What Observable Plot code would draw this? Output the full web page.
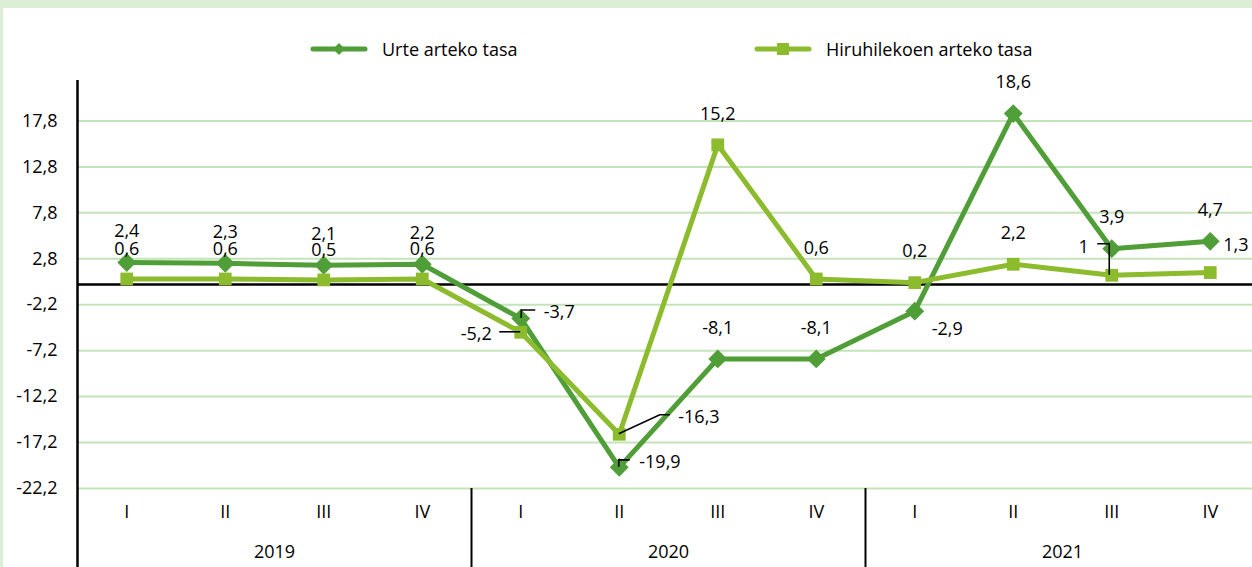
<!DOCTYPE html>
<html>
<head>
<meta charset="utf-8">
<script src="https://cdn.jsdelivr.net/npm/d3@7"></script>
<script src="https://cdn.jsdelivr.net/npm/@observablehq/plot@0.6"></script>
<style>
html, body { margin: 0; padding: 0; background: #fff; }
#wrap { position: relative; width: 1252px; height: 567px; overflow: hidden; font-family: "Open Sans", sans-serif; background: #fff; }
#frameTop { position: absolute; left: 0; top: 0; width: 1252px; height: 8px; background: #dcefd6; z-index: 2; }
#frameLeft { position: absolute; left: 0; top: 0; width: 3px; height: 567px; background: #dcefd6; z-index: 2; }
#chart { position: absolute; left: 0; top: 70px; }
.leg { position: absolute; top: 37px; height: 24px; display: flex; align-items: center; font-size: 18px; color: #000; white-space: nowrap; }
.leg svg { display: block; }
</style>
</head>
<body>
<div id="wrap">
  <div id="frameTop"></div>
  <div id="frameLeft"></div>
  <div id="leg1" class="leg" style="left:310px"></div>
  <div id="leg2" class="leg" style="left:754px"></div>
  <div id="chart"></div>
</div>
<script>
// ---- data ----
const quarters = ["I", "II", "III", "IV"];
const years = ["2019", "2020", "2021"];
const seriesNames = ["Urte arteko tasa", "Hiruhilekoen arteko tasa"];
const urte = [2.4, 2.3, 2.1, 2.2, -3.7, -19.9, -8.1, -8.1, -2.9, 18.6, 3.9, 4.7];
const hiru = [0.6, 0.6, 0.5, 0.6, -5.2, -16.3, 15.2, 0.6, 0.2, 2.2, 1, 1.3];
const yTicks = [-22.2, -17.2, -12.2, -7.2, -2.2, 2.8, 7.8, 12.8, 17.8];

// ---- label placement (style, not data) ----
const urtePlace = ["above","above","above","above","r1","r2","above","above","br","above","above","above"];
const hiruPlace = ["above2","above2","above2","above2","l1","r3","above","above","above","above","l2","r4"];
const placements = {
  above: {dx: 0, dy: -31, anchor: "middle"},
  above2: {dx: 0, dy: -30, anchor: "middle"},
  r1: {dx: 23, dy: -6, anchor: "start"},
  l1: {dx: -29, dy: 2, anchor: "end"},
  r2: {dx: 20, dy: -5, anchor: "start"},
  r3: {dx: 59, dy: -17, anchor: "start"},
  br: {dx: 17, dy: 18, anchor: "start"},
  l2: {dx: -23, dy: -28, anchor: "end"},
  r4: {dx: 13, dy: -27, anchor: "start"}
};
// leader lines: pixel offsets from the data point
const leaders = [
  {s: "urte", i: 4, pts: [[1, 0], [1, -8], [15, -8]]},
  {s: "hiru", i: 4, pts: [[-21, 0], [0, 0]]},
  {s: "urte", i: 5, pts: [[0, 0], [0, -7], [11, -7]]},
  {s: "hiru", i: 5, pts: [[0, 0], [41, -19], [51, -19]]},
  {s: "hiru", i: 10, pts: [[-14, -31], [-2, -31], [-2, 0]]}
];

const darkGreen = "#509e38";
const lightGreen = "#8cbb2e";
const gridColor = "#c3e4b9";

const urteRows = urte.map((v, i) => ({i, v, place: urtePlace[i]}));
const hiruRows = hiru.map((v, i) => ({i, v, place: hiruPlace[i]}));
const fmtComma = v => String(v).replace(".", ",");
const tickFmt = d => d.toFixed(1).replace(".", ",");

function labelMarks(rows) {
  return Object.entries(placements).map(([key, p]) =>
    Plot.text(rows.filter(r => r.place === key), {
      x: "i", y: "v", text: d => fmtComma(d.v),
      dx: p.dx, dy: p.dy, textAnchor: p.anchor, fill: "black", fontSize: 18
    })
  );
}

const W = 1252, H = 497, mTop = 10, mBottom = 79, mLeft = 77;

const chart = Plot.plot({
  width: W,
  height: H,
  marginTop: mTop,
  marginBottom: mBottom,
  marginLeft: mLeft,
  marginRight: 0,
  style: {fontFamily: "'Open Sans', sans-serif", fontSize: "18px", background: "transparent", color: "black", overflow: "visible"},
  x: {domain: [-0.5, 11.5], range: [77, 1259], axis: null},
  y: {domain: [-22.2, 22.2], axis: null},
  marks: [
    Plot.ruleY(yTicks, {stroke: gridColor, strokeWidth: 2}),
    Plot.ruleY([0], {stroke: "black", strokeWidth: 2.5}),
    Plot.ruleX([-0.5], {stroke: "black", strokeWidth: 2.5, insetBottom: -mBottom}),
    Plot.ruleX([3.5, 7.5, 11.5], {stroke: "black", strokeWidth: 2, insetTop: H - mTop - mBottom, insetBottom: -mBottom}),
    Plot.axisY(yTicks, {anchor: "left", label: null, tickSize: 0, tickPadding: 20, tickFormat: tickFmt, fontSize: 18, fill: "black"}),
    Plot.line(urteRows, {x: "i", y: "v", stroke: darkGreen, strokeWidth: 5, strokeLinejoin: "round"}),
    Plot.dot(urteRows, {x: "i", y: "v", symbol: "diamond2", r: 8.5, fill: darkGreen, stroke: "none"}),
    Plot.line(hiruRows, {x: "i", y: "v", stroke: lightGreen, strokeWidth: 5, strokeLinejoin: "round"}),
    Plot.dot(hiruRows, {x: "i", y: "v", symbol: "square", r: 7.2, fill: lightGreen, stroke: "none"}),
    ...labelMarks(urteRows),
    ...labelMarks(hiruRows),
    Plot.text(d3.range(12), {x: d => d, frameAnchor: "bottom", dy: 29, text: d => quarters[d % 4], fill: "black", fontSize: 18}),
    Plot.text(years, {x: (d, k) => k * 4 + 1.5, frameAnchor: "bottom", dy: 69, text: d => d, fill: "black", fontSize: 18})
  ]
});
document.getElementById("chart").appendChild(chart);

// leader lines through the plot's own scales
const xs = chart.scale("x"), ys = chart.scale("y");
const xf = xs && xs.apply ? v => xs.apply(v) : d3.scaleLinear([-0.5, 11.5], [77, 1259]);
const yf = ys && ys.apply ? v => ys.apply(v) : d3.scaleLinear([-22.2, 22.2], [H - mBottom, mTop]);
const svg = d3.select(chart.tagName.toLowerCase() === "svg" ? chart : chart.querySelector("svg"));
const seriesVals = {urte, hiru};
const lg = svg.append("g").attr("fill", "none").attr("stroke", "black").attr("stroke-width", 1.6);
for (const L of leaders) {
  const px = xf(L.i), py = yf(seriesVals[L.s][L.i]);
  lg.append("path").attr("d", d3.line()(L.pts.map(([dx, dy]) => [px + dx, py + dy])));
}

// legend
function legendItem(el, name, color, shape) {
  const s = d3.select(el).append("svg").attr("width", 58).attr("height", 20);
  s.append("line").attr("x1", 3).attr("x2", 55).attr("y1", 10).attr("y2", 10)
    .attr("stroke", color).attr("stroke-width", 5).attr("stroke-linecap", "round");
  if (shape === "diamond") {
    s.append("path").attr("d", "M29,4 L35,10 L29,16 L23,10 Z").attr("fill", color);
  } else {
    s.append("rect").attr("x", 23).attr("y", 4).attr("width", 12).attr("height", 12).attr("fill", color);
  }
  d3.select(el).append("span").style("margin-left", "14px").text(name);
}
legendItem(document.getElementById("leg1"), seriesNames[0], darkGreen, "diamond");
legendItem(document.getElementById("leg2"), seriesNames[1], lightGreen, "square");
</script>
</body>
</html>
